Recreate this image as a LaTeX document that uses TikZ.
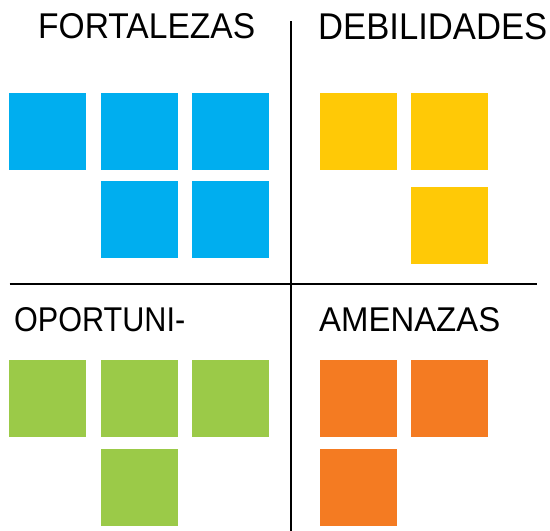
\documentclass[tikz,border=0pt]{standalone}
\usepackage{fontspec}
\usepackage{graphicx}
\setmainfont{Liberation Sans}
\usepackage{tikz}
\usetikzlibrary{positioning}

\definecolor{swotblue}{HTML}{00AEEF}
\definecolor{swotyellow}{HTML}{FFC906}
\definecolor{swotgreen}{HTML}{9BCA48}
\definecolor{swotorange}{HTML}{F47B22}

\newcommand{\swotlabel}[3]{\resizebox{#1}{#2}{#3}}

\begin{document}
\begin{tikzpicture}[x=1pt, y=-1pt,
    note/.style={rectangle, inner sep=0pt, minimum size=77pt, anchor=north west},
    title/.style={inner sep=0pt, anchor=base west}]
    \useasboundingbox (0,0) rectangle (550,531);
    % cross
    \draw[line width=2pt] (290.5,21) -- (290.5,531);
    \draw[line width=2pt] (9.5,283.5) -- (537,283.5);
    % titles
    \node[title] (fort) at (38,38) {\swotlabel{217pt}{25pt}{FORTALEZAS}};
    \node[title] (debi) at (318,39) {\swotlabel{229pt}{26pt}{DEBILIDADES}};
    \node[title] (opor) at (14,331) {\swotlabel{171pt}{24pt}{OPORTUNI-}};
    \node[title] (amen) at (319,331) {\swotlabel{181pt}{24pt}{AMENAZAS}};
    % fortalezas
    \node[note, fill=swotblue] (f1) at (9,93) {};
    \node[note, fill=swotblue] (f2) at (101,93) {};
    \node[note, fill=swotblue] (f3) at (192,93) {};
    \node[note, fill=swotblue] (f4) at (101,181) {};
    \node[note, fill=swotblue] (f5) at (192,181) {};
    % debilidades
    \node[note, fill=swotyellow] (d1) at (320,93) {};
    \node[note, fill=swotyellow] (d2) at (411,93) {};
    \node[note, fill=swotyellow] (d3) at (411,187) {};
    % oportunidades
    \node[note, fill=swotgreen] (o1) at (9,360) {};
    \node[note, fill=swotgreen] (o2) at (101,360) {};
    \node[note, fill=swotgreen] (o3) at (192,360) {};
    \node[note, fill=swotgreen] (o4) at (101,449) {};
    % amenazas
    \node[note, fill=swotorange] (a1) at (320,360) {};
    \node[note, fill=swotorange] (a2) at (411,360) {};
    \node[note, fill=swotorange] (a3) at (320,449) {};
\end{tikzpicture}
\end{document}
